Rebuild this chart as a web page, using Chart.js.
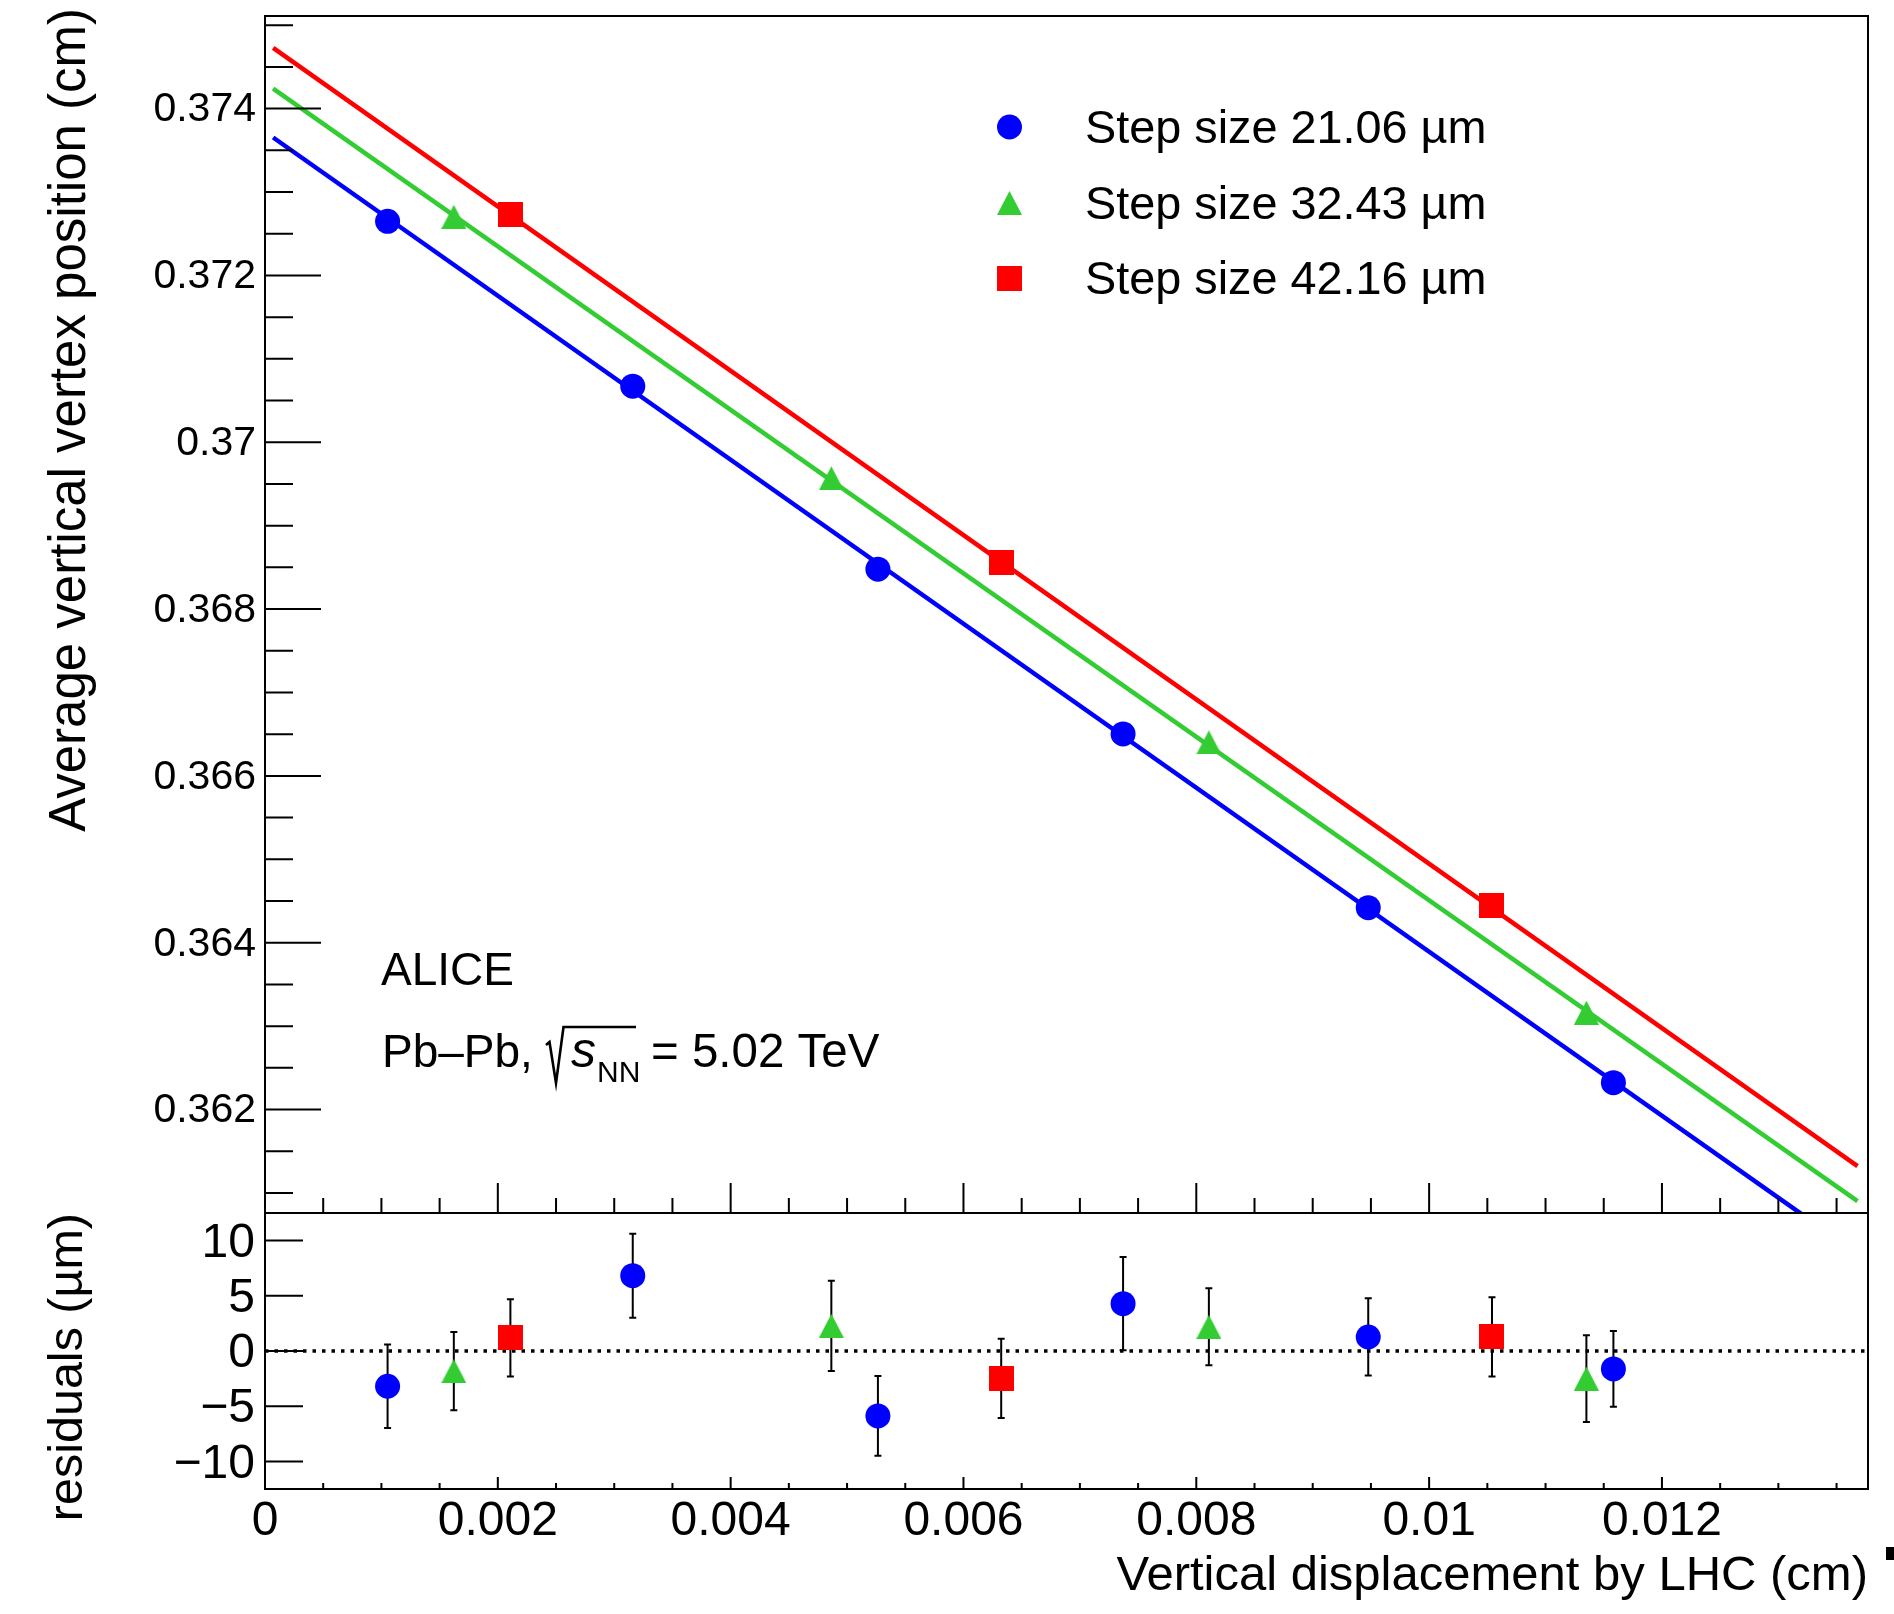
<!DOCTYPE html>
<html>
<head>
<meta charset="utf-8">
<script src="https://cdn.jsdelivr.net/npm/chart.js@4.4.1/dist/chart.umd.min.js"></script>
<style>
html, body { margin: 0; padding: 0; background: #ffffff; }
#wrap { position: relative; width: 1894px; height: 1614px; background: #ffffff; }
#wrap canvas { position: absolute; left: 0; top: 0; }
</style>
</head>
<body>
<div id="wrap">
  <canvas id="topPad" width="1894" height="1614"></canvas>
  <canvas id="botPad" width="1894" height="1614"></canvas>
</div>
<script>
// ---------------- data ----------------
const seriesLabels = ['Step size 21.06 \u00b5m', 'Step size 32.43 \u00b5m', 'Step size 42.16 \u00b5m'];

// measured vertex positions (cm) vs LHC displacement (cm)
const blueX  = [0.001053, 0.003159, 0.005265, 0.007371, 0.009477, 0.011583];
const blueY  = [0.372648, 0.370672, 0.368478, 0.366503, 0.364420, 0.362322];
const greenX = [0.001622, 0.004865, 0.008108, 0.011351];
const greenY = [0.372703, 0.369568, 0.366402, 0.363162];
const redX   = [0.002108, 0.006324, 0.010540];
const redY   = [0.372735, 0.368554, 0.364444];

// fitted straight lines (end points)
const fitX      = [0.00007, 0.01368];
const blueFitY  = [0.373653, 0.360275];
const greenFitY = [0.374239, 0.360902];
const redFitY   = [0.374728, 0.361322];

// residuals (um) with errors
const blueRes  = [-3.19, 6.82, -5.88, 4.29, 1.27, -1.62];
const blueErr  = [3.79, 3.80, 3.61, 4.23, 3.50, 3.43];
const greenRes = [-1.82, 2.28, 2.19, -2.50];
const greenErr = [3.54, 4.09, 3.49, 3.93];
const redRes   = [1.18, -2.48, 1.28];
const redErr   = [3.50, 3.60, 3.58];

// zero reference line of residual pad
const zeroLineX = [0, 0.01377];
const zeroLineY = [0, 0];

// axes
const xMin = 0, xMax = 0.01377;
const xTicks = [0, 0.002, 0.004, 0.006, 0.008, 0.010, 0.012];
const xTickLabels = ['0', '0.002', '0.004', '0.006', '0.008', '0.01', '0.012'];
const topYMin = 0.36076, topYMax = 0.37511;
const topYTicks = [0.362, 0.364, 0.366, 0.368, 0.370, 0.372, 0.374];
const topYTickLabels = ['0.362', '0.364', '0.366', '0.368', '0.37', '0.372', '0.374'];
const resYMin = -12.5, resYMax = 12.5;
const resYTicks = [-10, -5, 0, 5, 10];
const resYTickLabels = ['\u221210', '\u22125', '0', '5', '10'];

const topYTitle = 'Average vertical vertex position (cm)';
const resYTitle = 'residuals (\u00b5m)';
const xTitle = 'Vertical displacement by LHC (cm)';
const annotALICE = 'ALICE';
const annotSystem = ['Pb\u2013Pb,', 's', 'NN', '= 5.02 TeV'];

// ---------------- styling ----------------
const FONT = '"Liberation Sans", Arial, Helvetica, sans-serif';
const BLUE = '#0000ff', GREEN = '#33cc33', RED = '#ff0000';
Chart.defaults.font.family = FONT;
Chart.defaults.color = '#000000';

function pts(xs, ys) { return xs.map((x, i) => ({ x: x, y: ys[i] })); }

function makeTriangle(color, w, h) {
  const c = document.createElement('canvas');
  c.width = w; c.height = h;
  const g = c.getContext('2d');
  g.fillStyle = color;
  g.beginPath(); g.moveTo(w / 2, 0); g.lineTo(w, h); g.lineTo(0, h); g.closePath(); g.fill();
  return c;
}
function makeSquare(color, s) {
  const c = document.createElement('canvas');
  c.width = s; c.height = s;
  const g = c.getContext('2d');
  g.fillStyle = color; g.fillRect(0, 0, s, s);
  return c;
}
const triGreen = makeTriangle(GREEN, 25, 24);
const sqRed = makeSquare(RED, 25);
const CIRCLE_R = 12.5;

const PAD_LEFT = 265, PAD_RIGHT = 1868, TOP_TOP = 16, MID = 1213, BOT_BOTTOM = 1489;

function markerDatasets(xb, yb, xg, yg, xr, yr) {
  return [
    { label: seriesLabels[0], data: pts(xb, yb), pointStyle: 'circle', pointRadius: CIRCLE_R,
      backgroundColor: BLUE, borderColor: BLUE, pointBorderWidth: 0, showLine: false, order: 1 },
    { label: seriesLabels[1], data: pts(xg, yg), pointStyle: triGreen, pointRadius: 12,
      backgroundColor: GREEN, borderColor: GREEN, pointBorderWidth: 0, showLine: false, order: 1 },
    { label: seriesLabels[2], data: pts(xr, yr), pointStyle: sqRed, pointRadius: 12,
      backgroundColor: RED, borderColor: RED, pointBorderWidth: 0, showLine: false, order: 1 }
  ];
}
function fitDataset(ys, color) {
  return { label: 'fit', data: pts(fitX, ys), showLine: true, borderColor: color, borderWidth: 4.5,
           pointRadius: 0, fill: false, order: 2 };
}

// frame + inward ROOT style ticks
function rootAxes(cfg) {
  return {
    id: 'rootAxes',
    afterLayout(chart) {
      // title of the y axis reaches slightly above the frame, as in the original
      if (cfg.titleLift) chart.scales.y.top -= cfg.titleLift;
    },
    afterDatasetsDraw(chart) {
      const { ctx, chartArea: a, scales } = chart;
      const xs = scales.x, ys = scales.y;
      ctx.save();
      ctx.strokeStyle = '#000000';
      ctx.lineWidth = 2;
      ctx.lineCap = 'butt';
      ctx.beginPath();
      ctx.rect(a.left, a.top, a.right - a.left, a.bottom - a.top);
      const kMax = Math.floor(xMax / 0.0005 + 1e-6);
      for (let k = 0; k <= kMax; k++) {
        const px = xs.getPixelForValue(k * 0.0005);
        const len = (k % 4 === 0) ? cfg.xMajor : cfg.xMinor;
        ctx.moveTo(px, a.bottom); ctx.lineTo(px, a.bottom - len);
      }
      cfg.drawY(ctx, ys, a);
      ctx.stroke();
      ctx.restore();
    }
  };
}

function tickCallbackFor(values, labels) {
  return function (value) {
    for (let i = 0; i < values.length; i++) {
      if (Math.abs(values[i] - value) < 1e-9) return labels[i];
    }
    return '';
  };
}

// ---------------- upper pad ----------------
const topLegendAndText = {
  id: 'topText',
  afterDraw(chart) {
    const ctx = chart.ctx;
    ctx.save();
    ctx.fillStyle = '#000000';
    ctx.textAlign = 'left';
    ctx.textBaseline = 'alphabetic';
    // legend
    const rowY = [127, 203, 278];
    const markX = 1009.5, textX = 1085;
    ctx.fillStyle = BLUE;
    ctx.beginPath(); ctx.arc(markX, rowY[0], CIRCLE_R, 0, Math.PI * 2); ctx.fill();
    ctx.drawImage(triGreen, markX - triGreen.width / 2, rowY[1] - triGreen.height / 2);
    ctx.drawImage(sqRed, markX - sqRed.width / 2, rowY[2] - sqRed.height / 2);
    ctx.fillStyle = '#000000';
    ctx.font = '46.8px ' + FONT;
    for (let i = 0; i < 3; i++) ctx.fillText(seriesLabels[i], textX, rowY[i] + 16);

    // ALICE label
    ctx.font = '46px ' + FONT;
    ctx.fillText(annotALICE, 381, 985);
    // Pb-Pb line
    ctx.font = '46px ' + FONT;
    ctx.fillText(annotSystem[0], 382, 1067);
    // radical
    ctx.lineWidth = 2.6;
    ctx.strokeStyle = '#000000';
    ctx.lineJoin = 'miter';
    ctx.beginPath();
    ctx.moveTo(546, 1045);
    ctx.lineTo(549.5, 1042);
    ctx.lineTo(556, 1083);
    ctx.lineTo(563.5, 1027);
    ctx.lineTo(636, 1027);
    ctx.stroke();
    ctx.font = 'italic 50px ' + FONT;
    ctx.fillText(annotSystem[1], 571, 1067);
    ctx.font = '30px ' + FONT;
    ctx.fillText(annotSystem[2], 597, 1082);
    ctx.font = '47.5px ' + FONT;
    ctx.fillText(annotSystem[3], 651, 1067);
    // small mark at the lower right edge of the figure
    ctx.fillRect(1886, 1547, 8, 13);
    ctx.restore();
  }
};

const topChart = new Chart(document.getElementById('topPad'), {
  type: 'scatter',
  data: {
    datasets: [
      ...markerDatasets(blueX, blueY, greenX, greenY, redX, redY),
      fitDataset(blueFitY, BLUE),
      fitDataset(greenFitY, GREEN),
      fitDataset(redFitY, RED)
    ]
  },
  options: {
    responsive: false,
    maintainAspectRatio: false,
    devicePixelRatio: 1,
    animation: false,
    events: [],
    layout: { autoPadding: false, padding: { left: 0, top: TOP_TOP, right: 1894 - PAD_RIGHT, bottom: 1614 - MID } },
    plugins: { legend: { display: false }, tooltip: { enabled: false }, title: { display: false } },
    scales: {
      x: {
        type: 'linear', position: 'bottom', min: xMin, max: xMax,
        grid: { display: false, drawTicks: false }, border: { display: false },
        ticks: { display: false },
        afterBuildTicks(s) { s.ticks = xTicks.map(v => ({ value: v })); },
        afterFit(s) { s.height = 0; s.paddingLeft = 0; s.paddingRight = 0; }
      },
      y: {
        type: 'linear', position: 'left', min: topYMin, max: topYMax,
        grid: { display: false, drawTicks: false }, border: { display: false },
        ticks: { autoSkip: false, padding: 9, labelOffset: 1.5, font: { size: 41 }, color: '#000000',
                 callback: tickCallbackFor(topYTicks, topYTickLabels) },
        afterBuildTicks(s) { s.ticks = topYTicks.map(v => ({ value: v })); },
        afterFit(s) { s.width = PAD_LEFT; s.paddingTop = 0; s.paddingBottom = 0; },
        title: { display: true, text: topYTitle, align: 'end', color: '#000000',
                 font: { size: 51 }, padding: { top: 40, bottom: 0 } }
      }
    }
  },
  plugins: [
    rootAxes({
      xMajor: 30, xMinor: 15, titleLift: 8,
      drawY(ctx, ys, a) {
        for (let k = 722; k <= 750; k++) {
          const py = ys.getPixelForValue(k * 0.0005);
          const len = (k % 4 === 0) ? 56 : 28;
          ctx.moveTo(a.left, py); ctx.lineTo(a.left + len, py);
        }
      }
    }),
    topLegendAndText
  ]
});

// ---------------- lower (residual) pad ----------------
const errorBars = {
  id: 'errorBars',
  beforeDatasetsDraw(chart) {
    const { ctx, scales } = chart;
    const xs = scales.x, ys = scales.y;
    const sets = [[blueX, blueRes, blueErr], [greenX, greenRes, greenErr], [redX, redRes, redErr]];
    ctx.save();
    ctx.strokeStyle = '#000000';
    ctx.lineWidth = 2;
    ctx.beginPath();
    sets.forEach(([X, R, E]) => {
      for (let i = 0; i < X.length; i++) {
        const px = xs.getPixelForValue(X[i]);
        const yt = ys.getPixelForValue(R[i] + E[i]);
        const yb = ys.getPixelForValue(R[i] - E[i]);
        ctx.moveTo(px, yt); ctx.lineTo(px, yb);
        ctx.moveTo(px - 3.5, yt); ctx.lineTo(px + 3.5, yt);
        ctx.moveTo(px - 3.5, yb); ctx.lineTo(px + 3.5, yb);
      }
    });
    ctx.stroke();
    ctx.restore();
  }
};

const botChart = new Chart(document.getElementById('botPad'), {
  type: 'scatter',
  data: {
    datasets: [
      ...markerDatasets(blueX, blueRes, greenX, greenRes, redX, redRes),
      { label: 'zero', data: pts(zeroLineX, zeroLineY), showLine: true, borderColor: '#000000',
        borderWidth: 3.5, borderDash: [3.5, 6], pointRadius: 0, fill: false, order: 3 }
    ]
  },
  options: {
    responsive: false,
    maintainAspectRatio: false,
    devicePixelRatio: 1,
    animation: false,
    events: [],
    layout: { autoPadding: false, padding: { left: 0, top: MID, right: 1894 - PAD_RIGHT, bottom: 0 } },
    plugins: { legend: { display: false }, tooltip: { enabled: false }, title: { display: false } },
    scales: {
      x: {
        type: 'linear', position: 'bottom', min: xMin, max: xMax,
        grid: { display: false, drawTicks: false }, border: { display: false },
        ticks: { autoSkip: false, maxRotation: 0, minRotation: 0, padding: 4, font: { size: 48 },
                 color: '#000000', callback: tickCallbackFor(xTicks, xTickLabels) },
        afterBuildTicks(s) { s.ticks = xTicks.map(v => ({ value: v })); },
        afterFit(s) { s.height = 1614 - BOT_BOTTOM; s.paddingLeft = 0; s.paddingRight = 0; },
        title: { display: true, text: xTitle, align: 'end', color: '#000000',
                 font: { size: 49 }, padding: { top: 0, bottom: 8 } }
      },
      y: {
        type: 'linear', position: 'left', min: resYMin, max: resYMax,
        grid: { display: false, drawTicks: false }, border: { display: false },
        ticks: { autoSkip: false, padding: 10, labelOffset: 3, font: { size: 48 }, color: '#000000',
                 callback: tickCallbackFor(resYTicks, resYTickLabels) },
        afterBuildTicks(s) { s.ticks = resYTicks.map(v => ({ value: v })); },
        afterFit(s) { s.width = PAD_LEFT; s.paddingTop = 0; s.paddingBottom = 0; },
        title: { display: true, text: resYTitle, align: 'end', color: '#000000',
                 font: { size: 48.5 }, padding: { top: 40, bottom: 0 } }
      }
    }
  },
  plugins: [
    errorBars,
    rootAxes({
      xMajor: 12, xMinor: 6, titleLift: 0,
      drawY(ctx, ys, a) {
        resYTicks.forEach(v => {
          const py = ys.getPixelForValue(v);
          ctx.moveTo(a.left, py); ctx.lineTo(a.left + 38, py);
        });
      }
    })
  ]
});
</script>
</body>
</html>
